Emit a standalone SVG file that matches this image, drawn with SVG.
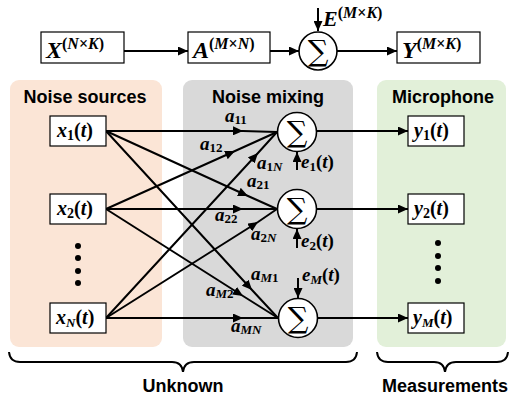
<svg xmlns="http://www.w3.org/2000/svg" width="510" height="401" viewBox="0 0 510 401">
<defs>
<marker id="ah" markerUnits="userSpaceOnUse" markerWidth="11" markerHeight="9" refX="10" refY="4.5" orient="auto">
<path d="M0,0 L10,4.5 L0,9 z" fill="#000"/>
</marker>
<style>
.box{fill:#fff;stroke:#000;stroke-width:1.2}
.sum{fill:#fff;stroke:#000;stroke-width:1.6}
.ln{fill:none;stroke:#000;stroke-width:2}
.ar{fill:none;stroke:#000;stroke-width:2;marker-end:url(#ah)}
.mid{fill:none;stroke:#000;stroke-width:2;marker-mid:url(#ah)}
.title{font-family:"Liberation Sans",Arial,sans-serif;font-weight:bold;font-size:18px;fill:#000;text-anchor:middle}
.big{font-family:"Liberation Sans",Arial,sans-serif;font-weight:bold;font-size:18px;fill:#000;text-anchor:middle}
.m{font-family:"Liberation Serif","Times New Roman",serif;font-weight:bold;font-style:italic;fill:#000}
.u{font-style:normal}
.sig{font-family:"DejaVu Serif","Liberation Serif",serif;font-size:29px;fill:#000;text-anchor:middle}
</style>
</defs>

<!-- panels -->
<rect x="10" y="80" width="152" height="267" rx="9" fill="#FBE5D6"/>
<rect x="183" y="80" width="170" height="267" rx="9" fill="#D9D9D9"/>
<rect x="377" y="80" width="129" height="267" rx="9" fill="#E2F0D9"/>
<text class="title" x="85" y="103">Noise sources</text>
<text class="title" x="268" y="103">Noise mixing</text>
<text class="title" x="443" y="103">Microphone</text>

<g id="connectors">
<!-- top row -->
<path class="ar" d="M124,51 L188,51"/>
<path class="ar" d="M270,51 L299,51"/>
<path class="ar" d="M337,51 L397,51"/>
<path class="ar" d="M318,8 L318,31"/>
<!-- mixing lines -->
<path class="mid" d="M106,131 L243,131 L277,132"/>
<path class="mid" d="M106,209 L235,151 L277,132"/>
<path class="mid" d="M106,318 L258,153 L277,132"/>
<path class="mid" d="M106,131 L248,196 L277,209"/>
<path class="mid" d="M106,209 L243,209 L277,209"/>
<path class="mid" d="M106,318 L258,222 L277,209"/>
<path class="mid" d="M106,131 L252,290 L278,318"/>
<path class="mid" d="M106,209 L243,296 L278,318"/>
<path class="mid" d="M106,318 L243,318 L278,318"/>
<!-- noise inputs -->
<path class="ar" d="M297,170 L297,152"/>
<path class="ar" d="M297,248 L297,229"/>
<path class="ar" d="M298,278 L298,298"/>
<!-- outputs -->
<path class="ar" d="M317,131 L408,131"/>
<path class="ar" d="M317,209 L408,209"/>
<path class="ar" d="M318,318 L408,318"/>
<!-- braces -->
<path class="ln" d="M9,352 Q10,362 20,362 L172,362 Q182,362 183,372 Q184,362 194,362 L346,362 Q356,362 357,352"/>
<path class="ln" d="M377,352 Q378,362 388,362 L434,362 Q444,362 445,372 Q446,362 456,362 L497,362 Q507,362 508,352"/>
</g>

<g id="X">
<rect class="box" x="41" y="32" width="83" height="31"/>
<text class="m" x="46" y="58" font-size="24">X<tspan font-size="16" dy="-9"><tspan class="u">(</tspan>N<tspan class="u">×</tspan>K<tspan class="u">)</tspan></tspan></text>
</g>
<g id="A">
<rect class="box" x="188" y="32" width="82" height="31"/>
<text class="m" x="193" y="58" font-size="24">A<tspan font-size="16" dy="-9"><tspan class="u">(</tspan>M<tspan class="u">×</tspan>N<tspan class="u">)</tspan></tspan></text>
</g>
<g id="sumTop">
<circle class="sum" cx="318" cy="51" r="19"/>
<text class="sig" x="318" y="61">∑</text>
<text class="m" x="323" y="26" font-size="22">E<tspan font-size="16" dy="-8"><tspan class="u">(</tspan>M<tspan class="u">×</tspan>K<tspan class="u">)</tspan></tspan></text>
</g>
<g id="Y">
<rect class="box" x="397" y="32" width="83" height="31"/>
<text class="m" x="402" y="58" font-size="24">Y<tspan font-size="16" dy="-9"><tspan class="u">(</tspan>M<tspan class="u">×</tspan>K<tspan class="u">)</tspan></tspan></text>
</g>

<g id="x1">
<rect class="box" x="50" y="116" width="56" height="30"/>
<text class="m" x="57" y="137" font-size="20">x<tspan class="u" font-size="14" dy="3">1</tspan><tspan dy="-3"><tspan class="u">(</tspan>t<tspan class="u">)</tspan></tspan></text>
</g>
<g id="x2">
<rect class="box" x="50" y="194" width="56" height="30"/>
<text class="m" x="57" y="215" font-size="20">x<tspan class="u" font-size="14" dy="3">2</tspan><tspan dy="-3"><tspan class="u">(</tspan>t<tspan class="u">)</tspan></tspan></text>
</g>
<g id="xdots">
<circle cx="78" cy="246" r="3"/><circle cx="78" cy="258" r="3"/><circle cx="78" cy="271" r="3"/><circle cx="78" cy="283" r="3"/>
</g>
<g id="xN">
<rect class="box" x="50" y="303" width="56" height="30"/>
<text class="m" x="56" y="324" font-size="20">x<tspan font-size="13" dy="3">N</tspan><tspan dy="-3"><tspan class="u">(</tspan>t<tspan class="u">)</tspan></tspan></text>
</g>

<g id="sum1">
<circle class="sum" cx="297" cy="132" r="19.5"/>
<text class="sig" x="297" y="142">∑</text>
</g>
<g id="sum2">
<circle class="sum" cx="297" cy="209" r="19.5"/>
<text class="sig" x="297" y="219">∑</text>
</g>
<g id="sumM">
<circle class="sum" cx="298" cy="318" r="19.5"/>
<text class="sig" x="298" y="328">∑</text>
</g>

<g id="weights">
<text class="m" x="225" y="122" font-size="19">a<tspan class="u" font-size="13" dy="2">11</tspan></text>
<text class="m" x="200" y="150" font-size="19">a<tspan class="u" font-size="13" dy="2">12</tspan></text>
<text class="m" x="257" y="169" font-size="19">a<tspan font-size="13" dy="2"><tspan class="u">1</tspan>N</tspan></text>
<text class="m" x="247" y="187" font-size="19">a<tspan class="u" font-size="13" dy="2">21</tspan></text>
<text class="m" x="215" y="221" font-size="19">a<tspan class="u" font-size="13" dy="2">22</tspan></text>
<text class="m" x="251" y="240" font-size="19">a<tspan font-size="13" dy="2"><tspan class="u">2</tspan>N</tspan></text>
<text class="m" x="251" y="280" font-size="19">a<tspan font-size="13" dy="2">M<tspan class="u">1</tspan></tspan></text>
<text class="m" x="206" y="296" font-size="19">a<tspan font-size="13" dy="2">M<tspan class="u">2</tspan></tspan></text>
<text class="m" x="231" y="332" font-size="19">a<tspan font-size="13" dy="2">MN</tspan></text>
</g>

<g id="noise">
<text class="m" x="301" y="168" font-size="19">e<tspan class="u" font-size="13" dy="3">1</tspan><tspan dy="-3"><tspan class="u">(</tspan>t<tspan class="u">)</tspan></tspan></text>
<text class="m" x="301" y="247" font-size="19">e<tspan class="u" font-size="13" dy="3">2</tspan><tspan dy="-3"><tspan class="u">(</tspan>t<tspan class="u">)</tspan></tspan></text>
<text class="m" x="302" y="281" font-size="19">e<tspan font-size="13" dy="3">M</tspan><tspan dy="-3"><tspan class="u">(</tspan>t<tspan class="u">)</tspan></tspan></text>
</g>

<g id="y1">
<rect class="box" x="408" y="116" width="56" height="30"/>
<text class="m" x="414" y="137" font-size="20">y<tspan class="u" font-size="14" dy="3">1</tspan><tspan dy="-3"><tspan class="u">(</tspan>t<tspan class="u">)</tspan></tspan></text>
</g>
<g id="y2">
<rect class="box" x="408" y="194" width="56" height="30"/>
<text class="m" x="414" y="215" font-size="20">y<tspan class="u" font-size="14" dy="3">2</tspan><tspan dy="-3"><tspan class="u">(</tspan>t<tspan class="u">)</tspan></tspan></text>
</g>
<g id="ydots">
<circle cx="438" cy="243" r="3"/><circle cx="438" cy="256" r="3"/><circle cx="438" cy="268" r="3"/><circle cx="438" cy="281" r="3"/>
</g>
<g id="yM">
<rect class="box" x="408" y="303" width="56" height="30"/>
<text class="m" x="413" y="324" font-size="20">y<tspan font-size="13" dy="3">M</tspan><tspan dy="-3"><tspan class="u">(</tspan>t<tspan class="u">)</tspan></tspan></text>
</g>

<text class="big" x="183" y="392">Unknown</text>
<text class="big" x="445" y="392">Measurements</text>
</svg>
